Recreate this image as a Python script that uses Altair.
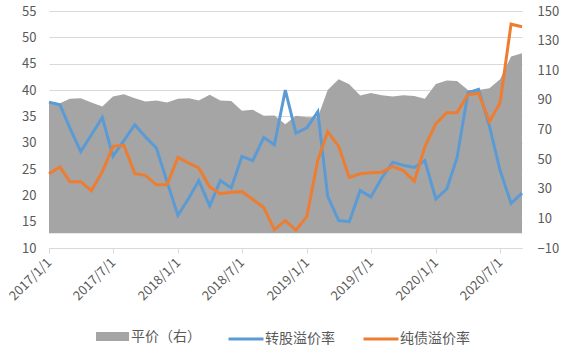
import altair as alt
import pandas as pd

# Monthly observations, 2017-01 .. 2020-09
months = pd.date_range("2017-01-01", periods=45, freq="MS").strftime("%Y-%m-%dT00:00:00").tolist()

# 平价（右） — right axis
parity = [88.9, 87.8, 90.7, 91.1, 88.2, 85.5, 92.3, 93.8, 91.1, 88.9,
          89.6, 88.2, 90.7, 91.1, 89.6, 93.4, 89.6, 89.3, 82.6, 83.3,
          79.2, 79.4, 73.6, 79.2, 78.3, 78.3, 96.7, 104.0, 100.5, 93.0,
          94.7, 93.2, 92.3, 93.2, 92.7, 90.7, 100.8, 103.0, 102.8, 96.7,
          96.7, 97.9, 104.0, 119.2, 121.5]

# 转股溢价率 — left axis
conv_premium = [37.7, 37.2, 32.8, 28.3, 31.5, 34.8, 27.4, 30.4, 33.4, 31.1,
                29.0, 22.6, 16.2, 19.5, 22.8, 18.0, 22.8, 21.4, 27.4, 26.6,
                31.0, 29.6, 40.0, 31.8, 32.8, 35.9, 19.8, 15.2, 15.0, 20.9,
                19.7, 23.3, 26.3, 25.7, 25.3, 26.6, 19.3, 21.2, 27.1, 39.5,
                40.1, 33.1, 24.7, 18.5, 20.4]

# 纯债溢价率 — left axis
bond_premium = [24.1, 25.4, 22.6, 22.6, 20.9, 24.5, 29.3, 29.5, 24.1, 23.8,
                22.0, 22.0, 27.2, 26.1, 25.2, 21.6, 20.3, 20.6, 20.7, 19.2,
                17.7, 13.5, 15.2, 13.4, 16.0, 26.7, 32.1, 29.3, 23.4, 24.1,
                24.3, 24.4, 25.5, 24.7, 22.7, 29.2, 33.6, 35.7, 35.7, 39.1,
                39.4, 34.0, 37.6, 52.5, 52.0]

area_name = "平价（右）"
line_names = ["转股溢价率", "纯债溢价率"]
line_colors = ["#5b9bd5", "#ed7d31"]
area_color = "#a5a5a5"

tick_dates = ["2017/1/1", "2017/7/1", "2018/1/1", "2018/7/1",
              "2019/1/1", "2019/7/1", "2020/1/1", "2020/7/1"]

area_df = pd.DataFrame({"date": months, "value": parity, "name": area_name})
line_df = pd.concat([
    pd.DataFrame({"date": months, "value": conv_premium, "series": line_names[0]}),
    pd.DataFrame({"date": months, "value": bond_premium, "series": line_names[1]}),
], ignore_index=True)

FONT = "Noto Sans CJK SC"
TXT = "#595959"
GRID = "#d9d9d9"

def dt(s):
    y, m, d = [int(v) for v in s.split("/")]
    return alt.DateTime(year=y, month=m, date=d)

x_enc = alt.X(
    "date:T",
    title=None,
    scale=alt.Scale(domain=[dt("2017/1/1"), dt("2020/9/1")]),
    axis=alt.Axis(
        values=[dt(s) for s in tick_dates],
        format="%Y/%-m/%-d",
        labelAngle=-45,
        labelAlign="right",
        labelBaseline="middle",
        labelPadding=7,
        labelFontSize=13,
        labelColor=TXT,
        labelFont=FONT,
        domainColor=GRID,
        tickColor=GRID,
        tickSize=5,
        grid=False,
        labelOverlap=False,
    ),
)

area = alt.Chart(area_df).mark_area(opacity=1, interpolate="linear").encode(
    x=x_enc,
    y=alt.Y(
        "value:Q",
        title=None,
        scale=alt.Scale(domain=[-10, 150], nice=False, zero=False),
        axis=alt.Axis(
            orient="right",
            values=list(range(-10, 151, 20)),
            grid=False,
            ticks=False,
            domain=False,
            labelPadding=15,
            labelFontSize=13,
            labelColor=TXT,
            labelFont=FONT,
        ),
    ),
    y2=alt.datum(0),
    fill=alt.Fill(
        "name:N",
        scale=alt.Scale(domain=[area_name], range=[area_color]),
        legend=alt.Legend(
            orient="none", legendX=47, legendY=309, title=None, padding=0,
            symbolType="M-1,-0.28H1V0.28H-1Z", symbolSize=1089,
            symbolOpacity=1, symbolStrokeWidth=0,
            labelFontSize=14, labelColor=TXT, labelFont=FONT, labelOffset=2,
        ),
    ),
)

lines = alt.Chart(line_df).mark_line(strokeWidth=3).encode(
    x=x_enc,
    y=alt.Y(
        "value:Q",
        title=None,
        scale=alt.Scale(domain=[10, 55], nice=False, zero=False),
        axis=alt.Axis(
            orient="left",
            values=list(range(10, 56, 5)),
            grid=True,
            gridColor=GRID,
            gridWidth=1,
            ticks=False,
            domain=False,
            labelPadding=13,
            labelFontSize=13,
            labelColor=TXT,
            labelFont=FONT,
        ),
    ),
    stroke=alt.Stroke(
        "series:N",
        sort=line_names,
        scale=alt.Scale(domain=line_names, range=line_colors),
        legend=alt.Legend(
            orient="none", legendX=178, legendY=309, title=None, padding=0,
            direction="horizontal", symbolType="stroke", symbolSize=1225,
            symbolStrokeWidth=3, columnPadding=22,
            labelFontSize=14, labelColor=TXT, labelFont=FONT, labelOffset=0,
        ),
    ),
)

chart = (
    alt.layer(area, lines)
    .resolve_scale(y="independent")
    .properties(
        width=473,
        height=237,
        padding={"left": 49, "top": 11, "right": 46, "bottom": 108},
        autosize=alt.AutoSizeParams(type="none"),
        background="white",
    )
    .configure(font=FONT)
    .configure_view(stroke=None)
)

chart.save("out.html", embed_options={"renderer": "svg", "actions": False})
